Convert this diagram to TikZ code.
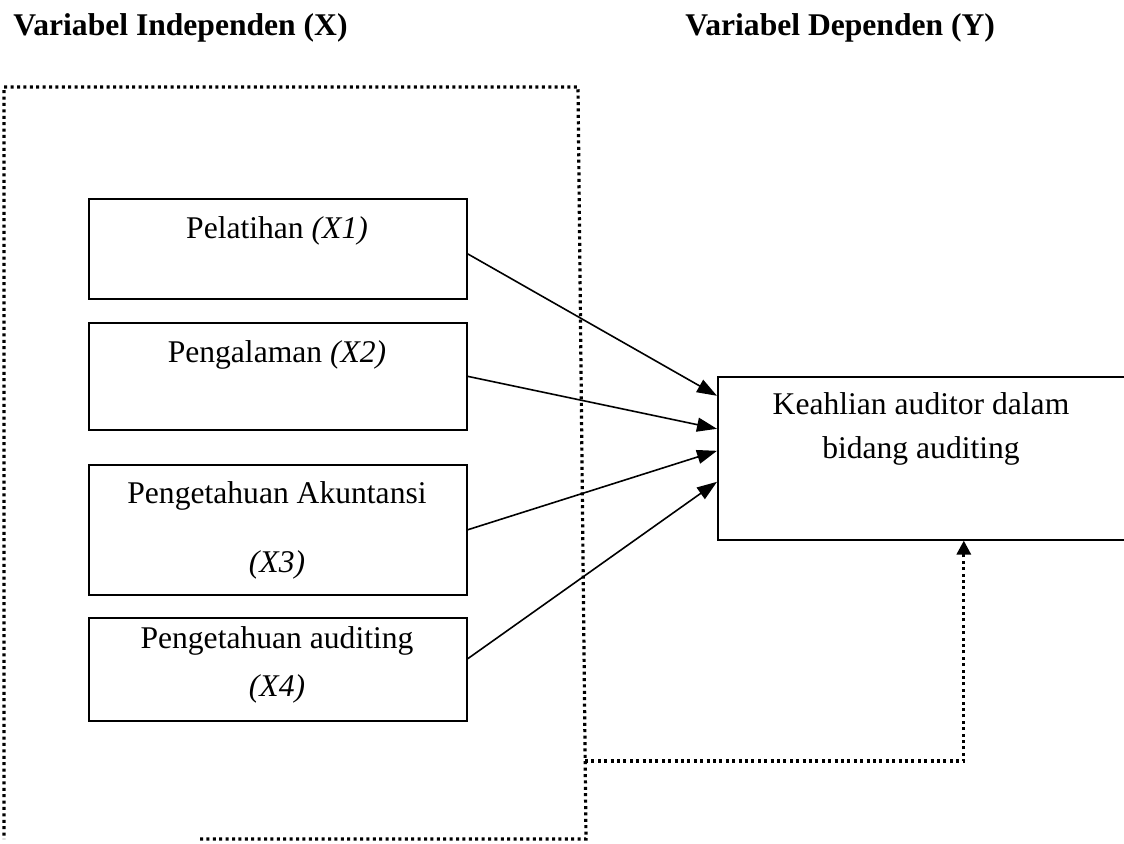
\documentclass[tikz,border=0pt]{standalone}
\usepackage{fontspec}
\setmainfont{Liberation Serif}
\usetikzlibrary{arrows.meta}

\begin{document}
\begin{tikzpicture}[
    x=0.5pt, y=-0.5pt,
    varbox/.style={rectangle, draw=black, line width=0.8pt, anchor=north west,
        inner sep=0pt, minimum width=189pt},
    vartext/.style={anchor=base, inner sep=0pt, font=\fontsize{15.8}{19}\selectfont},
    head/.style={anchor=base west, inner sep=0pt, font=\fontsize{15.8}{19}\selectfont\bfseries},
    link/.style={line width=0.8pt, -{Triangle[length=10pt,width=7pt]}},
    dotline/.style={line width=1.6pt, dash pattern=on 1.5pt off 1.7pt}
]
    \useasboundingbox (0,0) rectangle (1124,843);
    % headings
    \node[head] (hx) at (13,35) {Variabel Independen (X)};
    \node[head] (hy) at (685,35) {Variabel Dependen (Y)};
    % dotted frame round the X variables
    \draw[dotline] (200,839) -- (586,839) -- (578,87) -- (4,87) -- (4,839);
    % independent variables
    \node[varbox, minimum height=50pt] (x1) at (88,198) {};
    \node[varbox, minimum height=53.5pt] (x2) at (88,322) {};
    \node[varbox, minimum height=65pt] (x3) at (88,464) {};
    \node[varbox, minimum height=51.5pt] (x4) at (88,617) {};
    \node[vartext] (t1) at (277,238) {Pelatihan \textit{(X1)}};
    \node[vartext] (t2) at (277,362) {Pengalaman \textit{(X2)}};
    \node[vartext] (t3a) at (277,503) {Pengetahuan Akuntansi};
    \node[vartext] (t3b) at (277,572) {\textit{(X3)}};
    \node[vartext] (t4a) at (277,648) {Pengetahuan auditing};
    \node[vartext] (t4b) at (277,696) {\textit{(X4)}};
    % dependent variable
    \node[varbox, minimum width=204.5pt, minimum height=81.5pt] (y) at (717,376) {};
    \node[vartext] (ty1) at (921,414) {Keahlian auditor dalam};
    \node[vartext] (ty2) at (921,458) {bidang auditing};
    % links
    \draw[link] ([yshift=-2.5pt]x1.east) -- ([yshift=31.25pt]y.west);
    \draw[link] (x2.east) -- ([yshift=14.75pt]y.west);
    \draw[link] (x3.east) -- ([yshift=3.75pt]y.west);
    \draw[link] ([yshift=5.25pt]x4.east) -- ([yshift=-11.75pt]y.west);
    \coordinate (fb) at (585,761);
    \draw[dotline, -{Triangle[length=7pt,width=7pt]}] (fb) -| ([xshift=20.75pt]y.south);
\end{tikzpicture}
\end{document}
